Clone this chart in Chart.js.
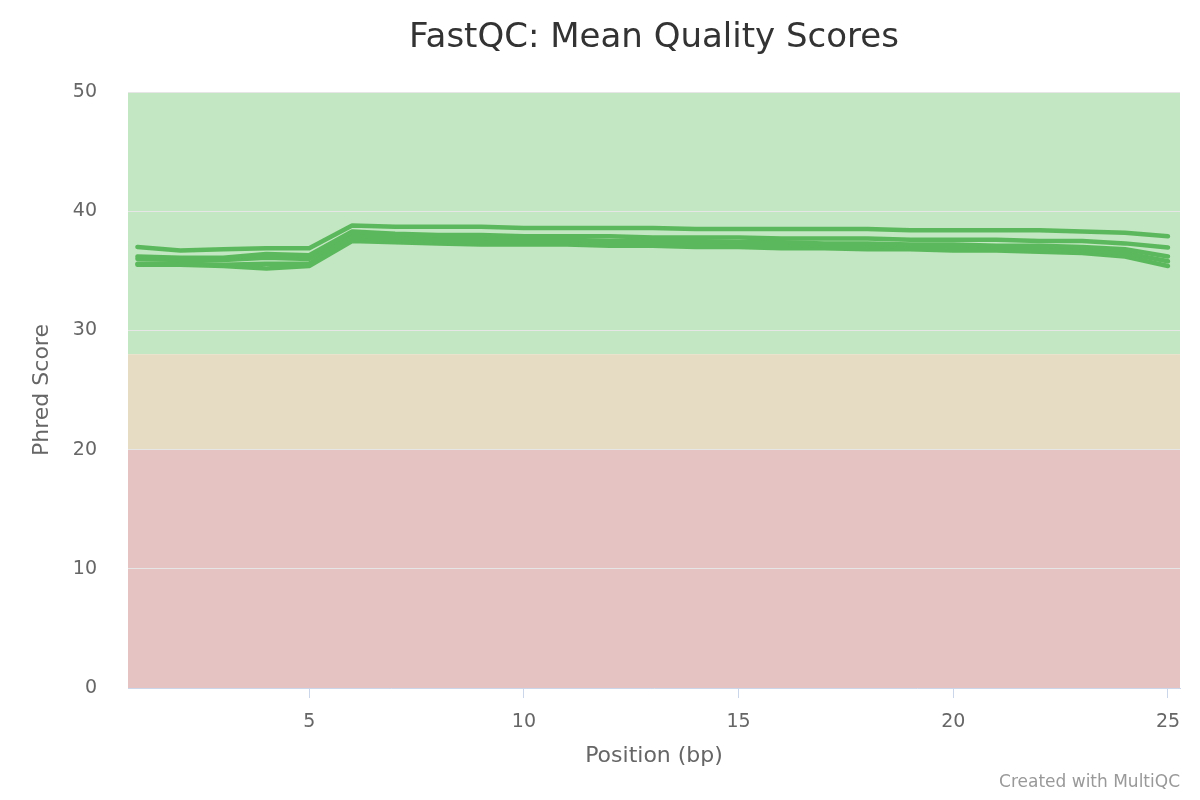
<!DOCTYPE html>
<html>
<head>
<meta charset="utf-8">
<title>FastQC: Mean Quality Scores</title>
<script src="https://cdn.jsdelivr.net/npm/chart.js@4"></script>
<style>
    body { margin: 0; background: #ffffff; }
    #wrap { width: 1200px; height: 800px; }
</style>
</head>
<body>
<div id="wrap"><canvas id="qualitychart"></canvas></div>
<script>
var positions = [1, 2, 3, 4, 5, 6, 7, 8, 9, 10, 11, 12, 13, 14, 15, 16, 17, 18, 19, 20, 21, 22, 23, 24, 25];
var xTickValues = [5, 10, 15, 20, 25];
var yTickValues = [0, 10, 20, 30, 40, 50];

var sample1 = [37.0, 36.7, 36.8, 36.9, 36.9, 38.8, 38.7, 38.7, 38.7, 38.6, 38.6, 38.6, 38.6, 38.5, 38.5, 38.5, 38.5, 38.5, 38.4, 38.4, 38.4, 38.4, 38.3, 38.2, 37.9];
var sample2 = [36.2, 36.1, 36.1, 36.4, 36.3, 38.3, 38.1, 38.0, 38.0, 37.9, 37.9, 37.9, 37.8, 37.8, 37.8, 37.7, 37.7, 37.7, 37.6, 37.6, 37.6, 37.5, 37.5, 37.3, 36.95];
var sample3 = [36.0, 35.9, 35.9, 36.1, 36.0, 38.0, 37.8, 37.7, 37.7, 37.6, 37.6, 37.5, 37.5, 37.5, 37.4, 37.4, 37.3, 37.3, 37.2, 37.2, 37.1, 37.1, 37.0, 36.8, 36.2];
var sample4 = [35.6, 35.6, 35.5, 35.6, 35.6, 37.8, 37.6, 37.5, 37.4, 37.4, 37.4, 37.3, 37.3, 37.2, 37.2, 37.2, 37.1, 37.1, 37.0, 37.0, 36.9, 36.8, 36.7, 36.5, 35.8];
var sample5 = [35.5, 35.5, 35.4, 35.2, 35.4, 37.5, 37.4, 37.3, 37.2, 37.2, 37.2, 37.1, 37.1, 37.0, 37.0, 36.9, 36.9, 36.8, 36.8, 36.7, 36.7, 36.6, 36.5, 36.2, 35.4];

// quality bands: [from, to], colour
var bandLimits = [[28, 50], [20, 28], [0, 20]];
var bandColors = ['#c3e6c3', '#e6dcc3', '#e6c3c3'];

const fontFamily = '"DejaVu Sans", Verdana, sans-serif';

function makeDataset(values) {
    return {
        data: positions.map((p, i) => ({ x: p, y: values[i] })),
        borderColor: '#5cb85c',
        borderWidth: 4.5,
        pointRadius: 0,
        tension: 0,
        borderJoinStyle: 'round',
        borderCapStyle: 'round'
    };
}

const bandsPlugin = {
    id: 'bands',
    beforeDraw(chart) {
        const ctx = chart.ctx;
        const area = chart.chartArea;
        const y = chart.scales.y;
        ctx.save();
        bandLimits.forEach((band, i) => {
            const top = y.getPixelForValue(band[1]);
            const bottom = y.getPixelForValue(band[0]);
            ctx.fillStyle = bandColors[i];
            ctx.fillRect(area.left, top, area.right - area.left, bottom - top);
        });
        ctx.restore();
    }
};

const creditPlugin = {
    id: 'credit',
    afterDraw(chart) {
        const ctx = chart.ctx;
        ctx.save();
        ctx.font = '17px ' + fontFamily;
        ctx.fillStyle = '#999999';
        ctx.textAlign = 'right';
        ctx.textBaseline = 'middle';
        ctx.fillText('Created with MultiQC', 1180, 783);
        ctx.restore();
    }
};

new Chart('qualitychart', {
    type: 'line',
    data: {
        datasets: [sample1, sample2, sample3, sample4, sample5].map(makeDataset)
    },
    options: {
        responsive: true,
        maintainAspectRatio: false,
        animation: false,
        layout: { padding: { left: 0, right: 20, top: 0, bottom: 0 } },
        plugins: {
            legend: { display: false },
            tooltip: { enabled: false },
            title: {
                display: true,
                fullSize: false,
                text: 'FastQC: Mean Quality Scores',
                color: '#333333',
                font: { family: fontFamily, size: 34, weight: 'normal' },
                padding: { top: 18, bottom: 33.2 }
            }
        },
        scales: {
            x: {
                type: 'linear',
                min: 0.78,
                max: 25.28,
                afterBuildTicks: (scale) => {
                    scale.ticks = xTickValues.map(v => ({ value: v }));
                },
                afterFit: (scale) => { scale.height = 112; },
                grid: {
                    drawOnChartArea: false,
                    drawTicks: true,
                    tickLength: 10,
                    color: '#ccd6eb'
                },
                border: { color: '#ccd6eb', width: 1 },
                ticks: {
                    color: '#666666',
                    padding: 13,
                    maxRotation: 0,
                    font: { family: fontFamily, size: 19 }
                },
                title: {
                    display: true,
                    text: 'Position (bp)',
                    color: '#666666',
                    font: { family: fontFamily, size: 22 },
                    padding: { top: 0, bottom: 31 }
                }
            },
            y: {
                min: 0,
                max: 50,
                afterBuildTicks: (scale) => {
                    scale.ticks = yTickValues.map(v => ({ value: v }));
                },
                afterFit: (scale) => { scale.width = 128; },
                grid: {
                    color: '#e6e6e6',
                    lineWidth: 1,
                    drawTicks: false
                },
                border: { display: false },
                ticks: {
                    color: '#666666',
                    padding: 31,
                    font: { family: fontFamily, size: 19 }
                },
                title: {
                    display: true,
                    text: 'Phred Score',
                    color: '#666666',
                    font: { family: fontFamily, size: 22 },
                    padding: { top: 29, bottom: 0 }
                }
            }
        }
    },
    plugins: [bandsPlugin, creditPlugin]
});
</script>
</body>
</html>
